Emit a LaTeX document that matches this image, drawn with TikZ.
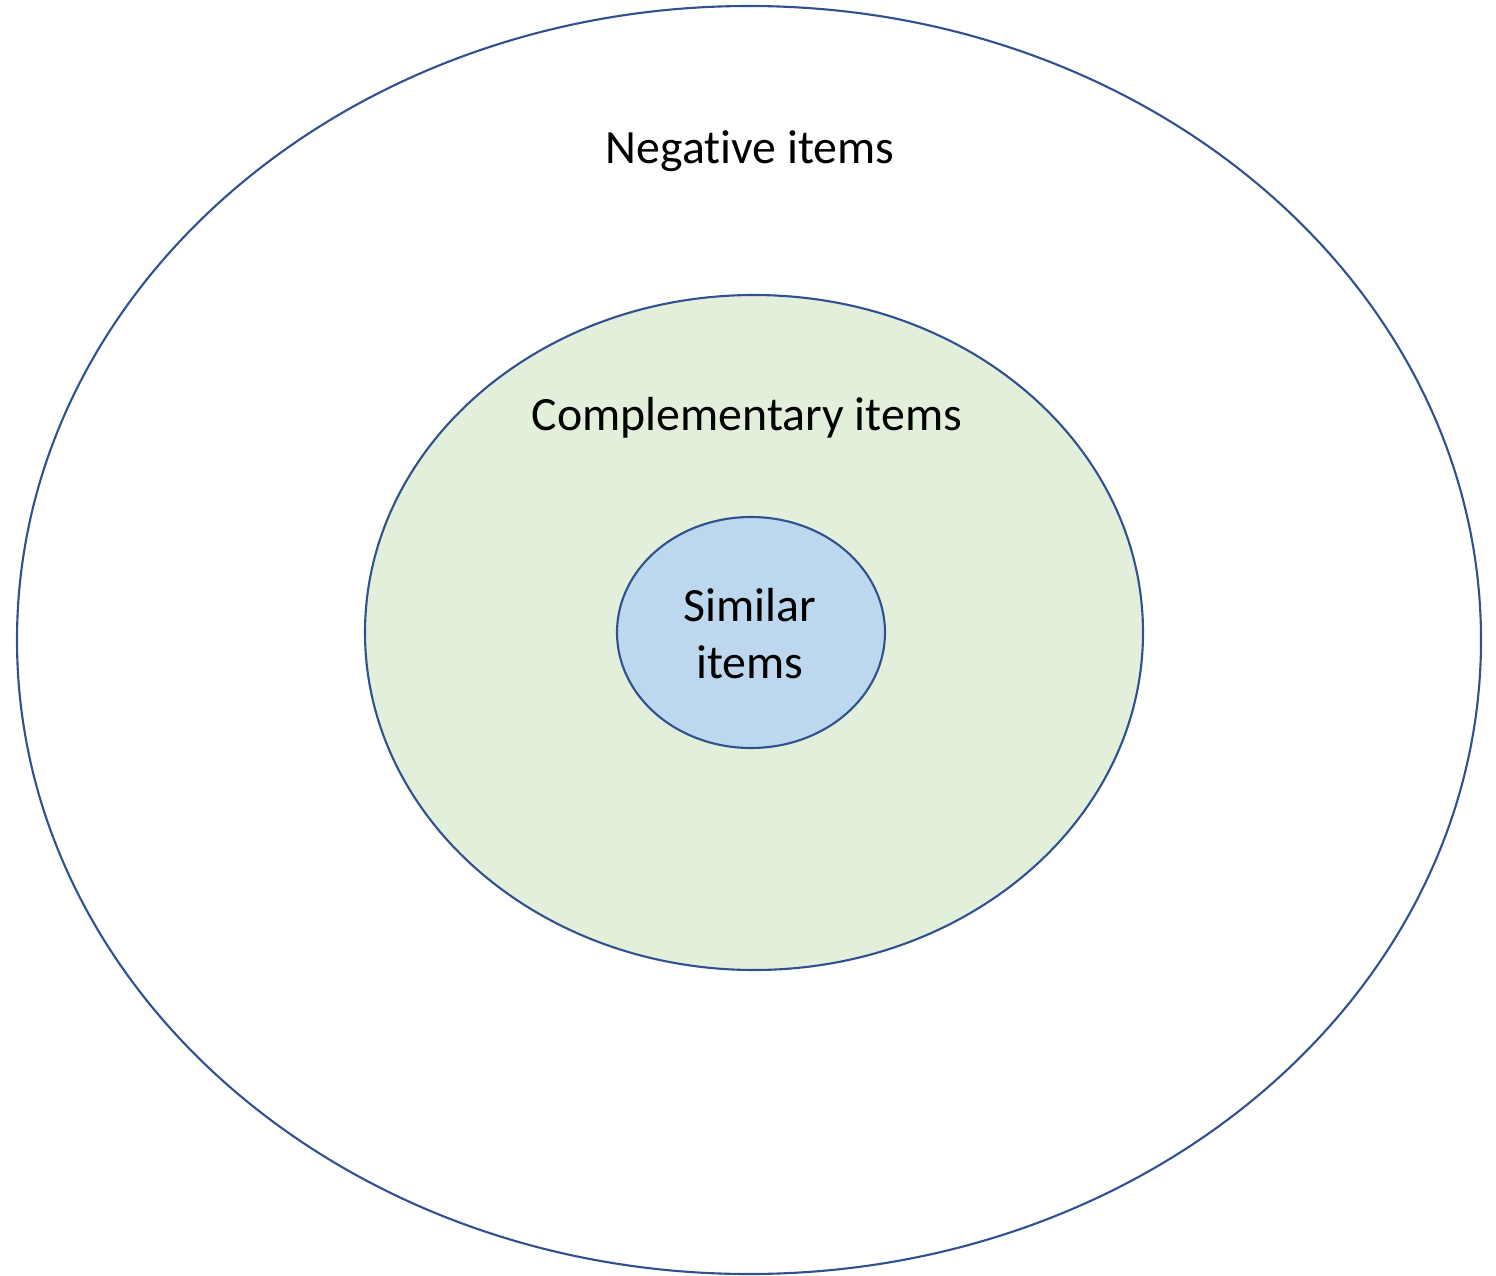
\documentclass[tikz,border=0pt]{standalone}
\usepackage{fontspec}
\setmainfont[Ligatures=NoCommon]{Carlito}
\usetikzlibrary{shapes.geometric}
\definecolor{edge}{HTML}{2F528F}
\definecolor{greenfill}{HTML}{E2EFDA}
\definecolor{bluefill}{HTML}{BDD7EE}
\tikzset{
  ring/.style={ellipse, draw=edge, line width=0.6pt, inner sep=0pt},
  lbl/.style={font=\fontsize{13.6pt}{16.2pt}\selectfont, align=center, inner sep=0pt}
}
\begin{document}
\begin{tikzpicture}
\useasboundingbox (0,0) rectangle (14.96,12.75);
\node[ring, minimum width=14.64cm, minimum height=12.68cm] (outer) at (7.49,6.35) {};
\node[ring, fill=greenfill, minimum width=7.78cm, minimum height=6.75cm] (mid) at (7.54,6.425) {};
\node[ring, fill=bluefill, minimum width=2.68cm, minimum height=2.31cm] (inner) at (7.51,6.425) {};
\node[lbl] (neg) at (7.50,11.24) {Negative items};
\node[lbl] (comp) at (7.47,8.575) {Complementary items};
\node[lbl] (sim) at (7.50,6.41) {Similar\\items};
\end{tikzpicture}
\end{document}
